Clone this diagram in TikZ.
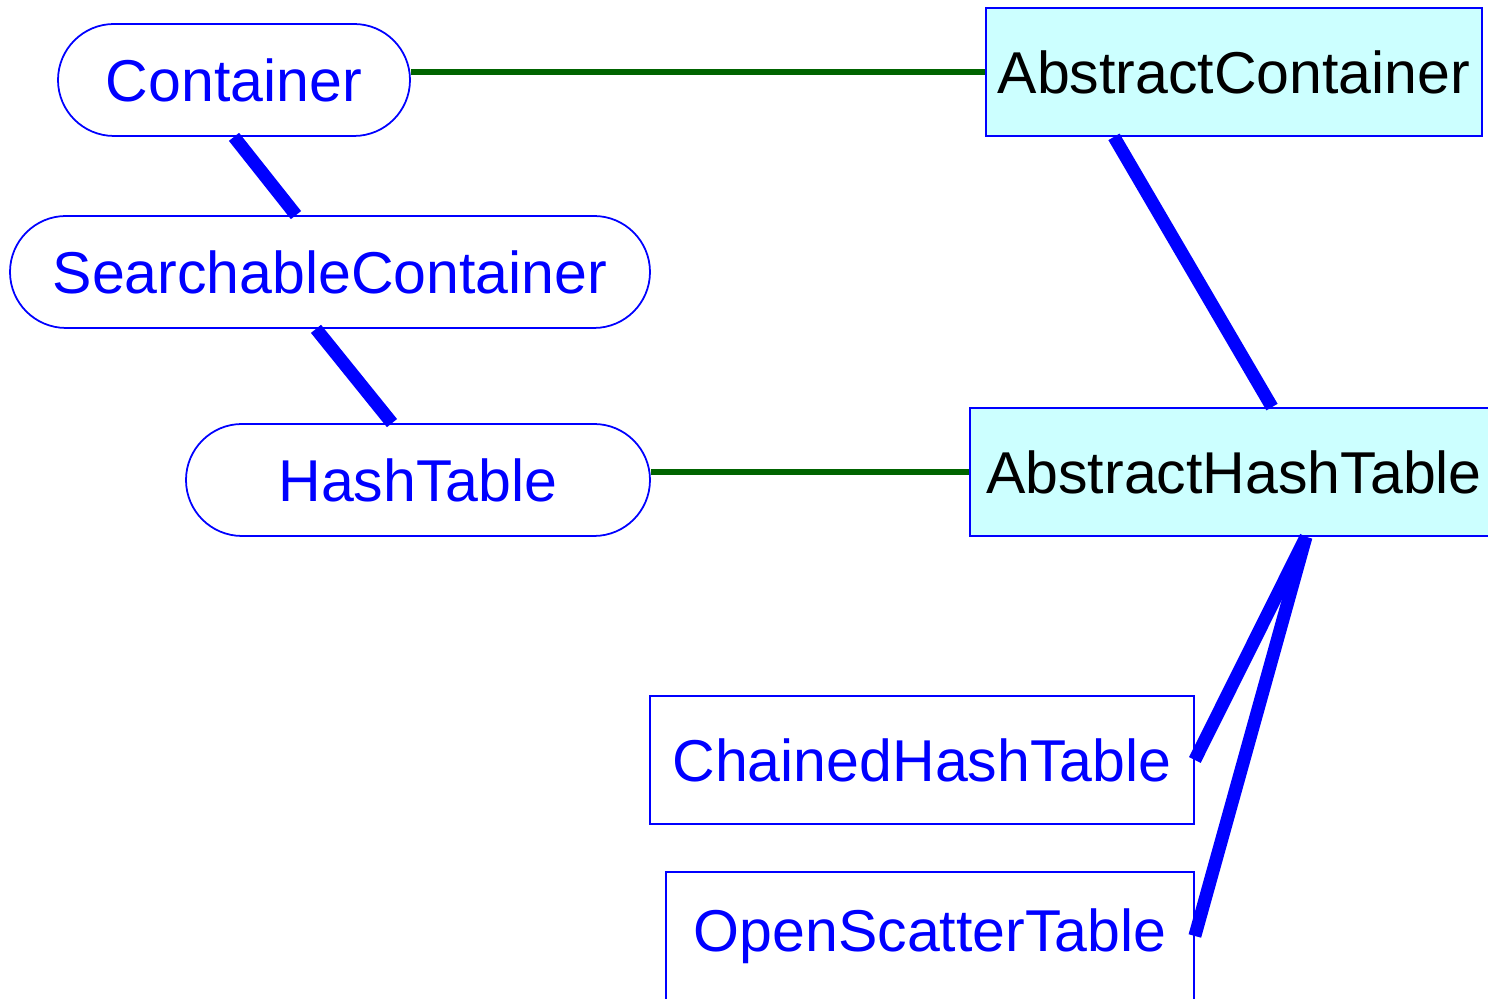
\documentclass[tikz,border=0pt]{standalone}
\usepackage{fontspec}
\setmainfont{Liberation Sans}
\usepackage{xcolor}
\usepackage{tikz}
\usetikzlibrary{positioning, calc}
\definecolor{umlblue}{HTML}{0000FF}
\definecolor{umlgreen}{HTML}{006400}
\definecolor{umlcyan}{HTML}{CCFFFF}

\begin{document}
\begin{tikzpicture}[
    iface/.style={rectangle, rounded corners=5.6mm, draw=umlblue, line width=0.5pt,
                  minimum height=1.12cm, inner sep=0pt, text=umlblue,
                  font=\fontsize{16.8}{20}\selectfont},
    absclass/.style={rectangle, draw=umlblue, fill=umlcyan, line width=0.5pt,
                     minimum height=1.28cm, inner sep=0pt, text=black,
                     font=\fontsize{16.8}{20}\selectfont},
    conclass/.style={rectangle, draw=umlblue, fill=white, line width=0.5pt,
                     minimum height=1.28cm, inner sep=0pt, text=umlblue,
                     font=\fontsize{16.8}{20}\selectfont},
    extends/.style={umlblue, line width=3.7pt},
    realizes/.style={umlgreen, line width=1.6pt},
]
    \useasboundingbox (0,0) rectangle (14.88,9.99);

    % Interfaces
    \node[iface, minimum width=3.52cm] (cont) at (2.34,9.19) {Container};
    \node[iface, minimum width=6.40cm] (search) at (3.30,7.27) {SearchableContainer};
    \node[iface, minimum width=4.64cm] (hash) at (4.18,5.19) {HashTable};

    % Abstract classes
    \node[absclass, minimum width=4.96cm] (abscont) at (12.34,9.27) {AbstractContainer};
    \node[absclass, minimum width=5.28cm] (abshash) at (12.34,5.27) {AbstractHashTable};

    % Concrete classes
    \node[conclass, minimum width=5.44cm] (chained) at (9.22,2.39) {ChainedHashTable};
    \node[conclass, minimum width=5.28cm] (open) at (9.30,0.63) {OpenScatterTable};

    % Realization lines
    \draw[realizes] (abscont.west -| cont.east) -- (abscont.west);
    \draw[realizes] (abshash.west -| hash.east) -- (abshash.west);

    % Inheritance lines
    \draw[extends] (cont.south) -- ([xshift=-0.34cm]search.north);
    \draw[extends] ([xshift=-0.14cm]search.south) -- ([xshift=-0.26cm]hash.north);
    \draw[extends] ([xshift=-1.20cm]abscont.south) -- ([xshift=0.38cm]abshash.north);
    \draw[extends] ([xshift=0.72cm]abshash.south) -- (chained.east);
    \draw[extends] ([xshift=0.72cm]abshash.south) -- (open.east);
\end{tikzpicture}
\end{document}
